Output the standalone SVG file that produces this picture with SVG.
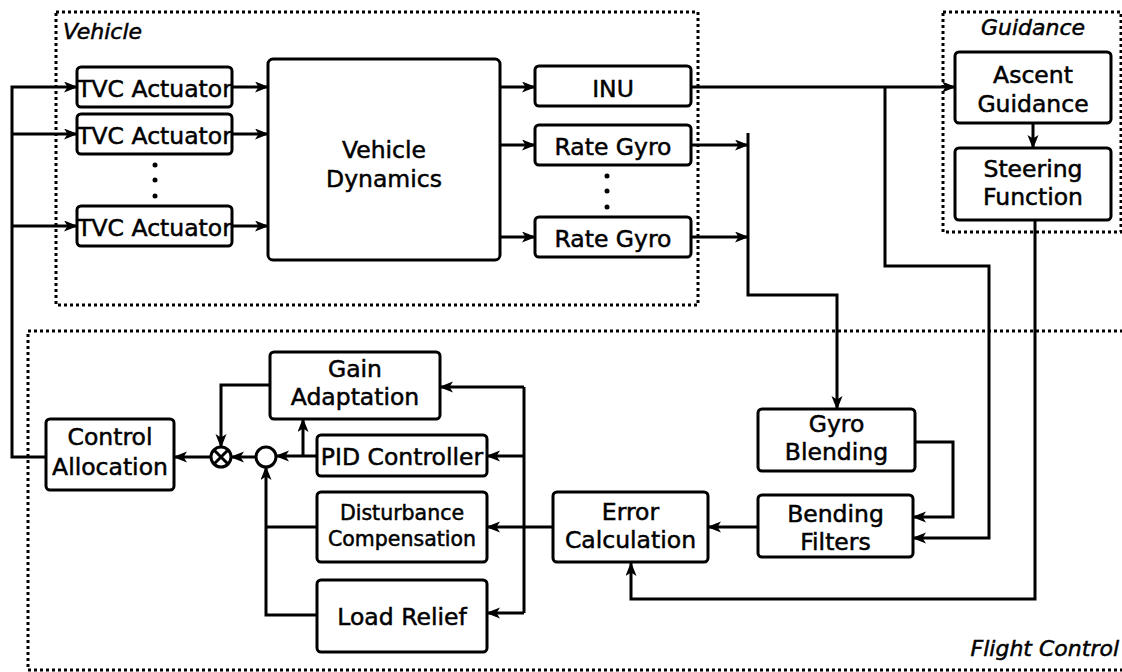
<svg xmlns="http://www.w3.org/2000/svg" width="1122" height="672" viewBox="0 0 1122 672">
<defs>
<marker id="ah" markerUnits="userSpaceOnUse" markerWidth="16" markerHeight="12" refX="13" refY="5.5" orient="auto">
<path d="M0,0 L14,5.5 L0,11 L3.5,5.5 z" fill="#000"/>
</marker>
<style>
.box{fill:#fff;stroke:#000;stroke-width:3}
.grp{fill:none;stroke:#000;stroke-width:3;stroke-dasharray:3 3}
.t{font-family:"DejaVu Sans","Liberation Sans",sans-serif;font-size:23.5px;fill:#000;stroke:#000;stroke-width:0.5;text-anchor:middle}
.s{font-size:20.5px}
.h{font-family:"DejaVu Sans","Liberation Sans",sans-serif;font-size:22px;font-style:italic;fill:#000;stroke:#000;stroke-width:0.5}
.c{fill:none;stroke:#000;stroke-width:3}
.a{marker-end:url(#ah)}
.dot{fill:#000}
</style>
</defs>
<rect width="1122" height="672" fill="#fff"/>

<g id="groups">
<rect class="grp" x="56" y="12" width="642" height="293"/>
<rect class="grp" x="943" y="12" width="178" height="220"/>
<rect class="grp" x="28" y="331" width="1110" height="339"/>
<text class="h" x="63" y="39">Vehicle</text>
<text class="h" x="1033" y="35" text-anchor="middle">Guidance</text>
<text class="h" x="1119" y="656" text-anchor="end">Flight Control</text>
</g>

<g id="connectors">
<path class="c a" d="M46,457 H12 V87 H77"/>
<path class="c a" d="M12,134 H77"/>
<path class="c a" d="M12,226 H77"/>
<path class="c a" d="M232,87 H268"/>
<path class="c a" d="M232,134 H268"/>
<path class="c a" d="M232,226 H268"/>
<path class="c a" d="M500,87 H535"/>
<path class="c a" d="M500,145 H535"/>
<path class="c a" d="M500,237 H535"/>
<path class="c a" d="M691,87 H955"/>
<path class="c a" d="M885,87 V266 H989 V538 H913"/>
<path class="c a" d="M691,145 H748"/>
<path class="c a" d="M691,237 H748"/>
<path class="c a" d="M748,133 V295 H837 V409"/>
<path class="c a" d="M1033,123 V148"/>
<path class="c a" d="M1035,220 V599 H631 V563"/>
<path class="c a" d="M915,442 H953 V517 H913"/>
<path class="c a" d="M758,527 H708"/>
<path class="c a" d="M553,527 H487"/>
<path class="c" d="M524,387 V613"/>
<path class="c a" d="M524,387 H440"/>
<path class="c a" d="M524,456 H487"/>
<path class="c a" d="M524,613 H487"/>
<path class="c a" d="M317,456 H276"/>
<path class="c a" d="M303,456 V419"/>
<path class="c a" d="M256,457 H231"/>
<path class="c a" d="M211,457 H174"/>
<path class="c a" d="M270,385 H221 V447"/>
<path class="c" d="M317,527 H266"/>
<path class="c a" d="M317,615 H266 V467"/>
</g>

<g id="tvc1"><rect class="box" x="77" y="67" width="155" height="40" rx="4"/><text class="t" x="154.5" y="97">TVC Actuator</text></g>
<g id="tvc2"><rect class="box" x="77" y="114" width="155" height="40" rx="4"/><text class="t" x="154.5" y="144">TVC Actuator</text></g>
<g id="tvc-dots"><circle class="dot" cx="155" cy="165" r="2.5"/><circle class="dot" cx="155" cy="180" r="2.5"/><circle class="dot" cx="155" cy="196" r="2.5"/></g>
<g id="tvc3"><rect class="box" x="77" y="206" width="155" height="40" rx="4"/><text class="t" x="154.5" y="236">TVC Actuator</text></g>

<g id="dynamics"><rect class="box" x="268" y="59" width="232" height="201" rx="5"/><text class="t" x="384" y="158">Vehicle</text><text class="t" x="384" y="187">Dynamics</text></g>

<g id="inu"><rect class="box" x="535" y="66" width="156" height="40" rx="4"/><text class="t" x="613" y="97">INU</text></g>
<g id="gyro1"><rect class="box" x="535" y="125" width="156" height="40" rx="4"/><text class="t" x="613" y="155">Rate Gyro</text></g>
<g id="gyro-dots"><circle class="dot" cx="607" cy="176" r="2.5"/><circle class="dot" cx="607" cy="191" r="2.5"/><circle class="dot" cx="607" cy="207" r="2.5"/></g>
<g id="gyro2"><rect class="box" x="535" y="217" width="156" height="40" rx="4"/><text class="t" x="613" y="247">Rate Gyro</text></g>

<g id="ascent"><rect class="box" x="955" y="52" width="156" height="71" rx="4"/><text class="t" x="1033" y="83">Ascent</text><text class="t" x="1033" y="112">Guidance</text></g>
<g id="steering"><rect class="box" x="955" y="148" width="156" height="72" rx="4"/><text class="t" x="1033" y="177">Steering</text><text class="t" x="1033" y="205">Function</text></g>

<g id="blending"><rect class="box" x="758" y="409" width="157" height="62" rx="4"/><text class="t" x="836.5" y="432">Gyro</text><text class="t" x="836.5" y="460">Blending</text></g>
<g id="filters"><rect class="box" x="758" y="495" width="155" height="62" rx="4"/><text class="t" x="835.5" y="522">Bending</text><text class="t" x="835.5" y="550">Filters</text></g>
<g id="error"><rect class="box" x="553" y="492" width="155" height="70" rx="4"/><text class="t" x="630.5" y="520">Error</text><text class="t" x="630.5" y="548">Calculation</text></g>

<g id="gain"><rect class="box" x="270" y="352" width="170" height="67" rx="4"/><text class="t" x="355" y="377">Gain</text><text class="t" x="355" y="405">Adaptation</text></g>
<g id="pid"><rect class="box" x="317" y="435" width="170" height="41" rx="4"/><text class="t" x="402" y="465">PID Controller</text></g>
<g id="disturbance"><rect class="box" x="317" y="492" width="170" height="70" rx="4"/><text class="t s" x="402" y="520">Disturbance</text><text class="t s" x="402" y="546">Compensation</text></g>
<g id="load"><rect class="box" x="317" y="580" width="170" height="72" rx="4"/><text class="t" x="402" y="625">Load Relief</text></g>

<g id="allocation"><rect class="box" x="46" y="419" width="128" height="71" rx="4"/><text class="t" x="110" y="445">Control</text><text class="t" x="110" y="475">Allocation</text></g>

<g id="multiply"><circle cx="221" cy="457" r="10" fill="#fff" stroke="#000" stroke-width="3"/><path d="M214,450 L228,464 M228,450 L214,464" stroke="#000" stroke-width="3"/></g>
<g id="sum"><circle cx="266" cy="457" r="10" fill="#fff" stroke="#000" stroke-width="3"/></g>
</svg>
